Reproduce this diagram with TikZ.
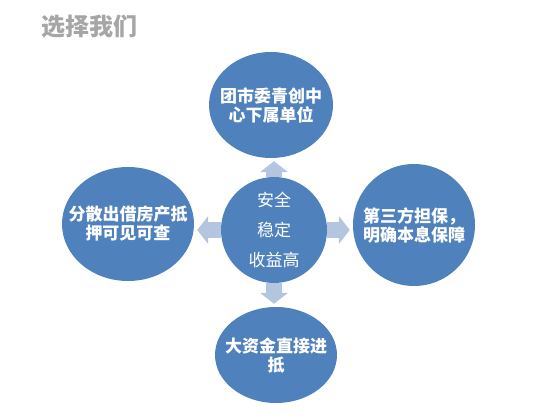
\documentclass[tikz,border=0pt]{standalone}
\usepackage{fontspec}
\newfontfamily\cjk{Noto Sans CJK SC}
\usetikzlibrary{shapes.geometric, arrows.meta, positioning, backgrounds}
\definecolor{bubble}{HTML}{4F81BD}
\definecolor{pointer}{HTML}{B4C5E0}
\definecolor{heading}{HTML}{A6A6A6}

\begin{document}
\begin{tikzpicture}[x=1pt, y=-1pt,
    bubble/.style={ellipse, fill=bubble, inner sep=0pt},
    caption/.style={text=white, align=center, inner sep=0pt, font=\cjk\bfseries\fontsize{17}{19}\selectfont},
    pointer/.style={draw=pointer, line width=16pt, -{Triangle[width=28pt, length=11pt, line width=0pt]}, shorten >=3pt}
]
\useasboundingbox (0,0) rectangle (544,419);
\node[anchor=west, text=heading, font=\cjk\bfseries\fontsize{24}{26}\selectfont] (title) at (38,27) {选择我们};
\node[bubble, minimum width=106pt, minimum height=106pt,
  label={[caption, font=\cjk\fontsize{17}{30}\selectfont]center:安全\\稳定\\收益高}] (core) at (274,230) {};
\node[bubble, minimum width=124pt, minimum height=106pt,
  label={[caption]center:团市委青创中\\心下属单位}] (top) at (271,105) {};
\node[bubble, minimum width=132pt, minimum height=114pt,
  label={[caption]center:分散出借房产抵\\押可见可查}] (left) at (128,224) {};
\node[bubble, minimum width=122pt, minimum height=122pt,
  label={[caption]center:第三方担保，\\明确本息保障}] (right) at (414,225) {};
\node[bubble, minimum width=122pt, minimum height=96pt,
  label={[caption]center:大资金直接进\\抵}] (bottom) at (276,355) {};
\begin{scope}[on background layer]
\draw[pointer] (core.north) -- (core.north |- top.south);
\draw[pointer] (core.west) -- (core.west -| left.east);
\draw[pointer] (core.east) -- (core.east -| right.west);
\draw[pointer] (core.south) -- (core.south |- bottom.north);
\end{scope}
\end{tikzpicture}
\end{document}
